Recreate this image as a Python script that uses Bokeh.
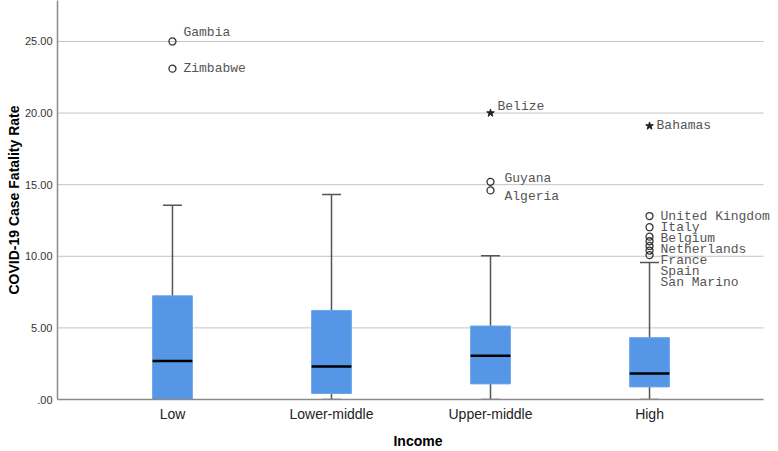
from bokeh.plotting import figure
from bokeh.models import FixedTicker, Range1d, ColumnDataSource, LabelSet
from bokeh.core.properties import value
from bokeh.embed import file_html
from bokeh.resources import INLINE

# ---- data ----
categories = ["Low", "Lower-middle", "Upper-middle", "High"]
q1 = [0.0, 0.42, 1.09, 0.88]
median = [2.69, 2.30, 3.06, 1.81]
q3 = [7.24, 6.22, 5.13, 4.32]
whisker_low = [0.0, 0.0, 0.0, 0.0]
whisker_high = [13.56, 14.32, 10.03, 9.56]

outlier_group = [1, 1, 3, 3, 3, 4, 4, 4, 4, 4, 4, 4, 4]
outlier_value = [25.0, 23.1, 20.0, 15.2, 14.6, 19.1, 12.81, 12.03, 11.37, 11.05, 10.72, 10.40, 10.08]
outlier_name = ["Gambia", "Zimbabwe", "Belize", "Guyana", "Algeria", "Bahamas",
                "United Kingdom", "Italy", "Belgium", "Netherlands", "France", "Spain", "San Marino"]
outlier_extreme = [False, False, True, False, False, True, False, False, False, False, False, False, False]

y_ticks = [0, 5, 10, 15, 20, 25]
y_tick_labels = [".00", "5.00", "10.00", "15.00", "20.00", "25.00"]

# ---- styling / layout ----
W, H = 778, 451
MB_L, MB_R, MB_T, MB_B = 57, 0, 0, 51
Y_END = 27.86
X_START, X_END = 0.277, 4.811
X_AXIS_END = 4.717
BOX_W = 0.25
CAP_W = 0.12
BLUE = "#5596E6"
px_per_unit = (H - MB_T - MB_B) / Y_END

label_dy_px = {"Gambia": 9, "Belize": 7, "Guyana": 3, "Algeria": -6}
label_dx_px = {"Guyana": 14, "Algeria": 14}
GAP_PX = 11

p = figure(width=W, height=H, output_backend="svg", toolbar_location=None,
           x_range=Range1d(X_START, X_END), y_range=Range1d(0, Y_END),
           min_border_left=MB_L, min_border_right=MB_R, min_border_top=MB_T,
           min_border_bottom=MB_B)
p.outline_line_color = None
p.background_fill_color = "white"
p.border_fill_color = "white"

xs = list(range(1, len(categories) + 1))

# horizontal grid lines (limited to the axis extent)
grid_y = y_ticks[1:]
p.segment(x0=[X_START] * len(grid_y), y0=grid_y, x1=[X_AXIS_END] * len(grid_y), y1=grid_y,
          line_color="#c4c4c4", line_width=1)

# whiskers
p.segment(x0=xs, y0=q3, x1=xs, y1=whisker_high, line_color="#555555", line_width=1.5)
p.segment(x0=xs, y0=whisker_low, x1=xs, y1=q1, line_color="#555555", line_width=1.5)
p.segment(x0=[x - CAP_W / 2 for x in xs], y0=whisker_high,
          x1=[x + CAP_W / 2 for x in xs], y1=whisker_high, line_color="#555555", line_width=1.5)
p.segment(x0=[x - CAP_W / 2 for x in xs], y0=whisker_low,
          x1=[x + CAP_W / 2 for x in xs], y1=whisker_low, line_color="#555555", line_width=1.5)

# boxes
p.vbar(x=xs, width=BOX_W, bottom=q1, top=q3, fill_color=BLUE, line_color="#6aa5ec", line_width=1)
p.segment(x0=[x - BOX_W / 2 for x in xs], y0=median,
          x1=[x + BOX_W / 2 for x in xs], y1=median, line_color="black", line_width=2.5)

# outliers
circ_x = [g for g, e in zip(outlier_group, outlier_extreme) if not e]
circ_y = [v for v, e in zip(outlier_value, outlier_extreme) if not e]
star_x = [g for g, e in zip(outlier_group, outlier_extreme) if e]
star_y = [v for v, e in zip(outlier_value, outlier_extreme) if e]
p.scatter(circ_x, circ_y, marker="circle", size=7, fill_color=None, line_color="#333333", line_width=1.3)
p.scatter(star_x, star_y, marker="star", size=8, fill_color="#222222", line_color="#222222")

# label positions (decluttered)
prev = {}
order = sorted(range(len(outlier_value)), key=lambda i: -outlier_value[i])
label_y = [0.0] * len(outlier_value)
for i in order:
    name = outlier_name[i]
    y = outlier_value[i] + label_dy_px.get(name, 0) / px_per_unit
    g = outlier_group[i]
    if g == 4 and g in prev:
        y = min(y, prev[g] - GAP_PX / px_per_unit)
    prev[g] = y
    label_y[i] = y
label_dx = [label_dx_px.get(n, 7 if e else 11) for n, e in zip(outlier_name, outlier_extreme)]

src = ColumnDataSource(dict(x=outlier_group, y=label_y, text=outlier_name, dx=label_dx))
labels = LabelSet(x="x", y="y", text="text", source=src, x_offset="dx",
                  text_font=value("Liberation Mono"), text_font_size=value("13px"),
                  text_color=value("#555555"), text_baseline=value("middle"), text_align=value("left"))
p.add_layout(labels)

# axes
p.xaxis.ticker = FixedTicker(ticks=xs)
p.xaxis.major_label_overrides = {x: c for x, c in zip(xs, categories)}
p.xaxis.bounds = (X_START, X_AXIS_END)
p.yaxis.ticker = FixedTicker(ticks=y_ticks)
p.yaxis.major_label_overrides = {t: l for t, l in zip(y_ticks, y_tick_labels)}
p.xgrid.grid_line_color = None
p.ygrid.grid_line_color = None

for ax in (p.xaxis[0], p.yaxis[0]):
    ax.axis_line_color = "#8a8a8a"
    ax.axis_line_width = 1.5
    ax.major_tick_out = 0
    ax.major_tick_in = 0
    ax.minor_tick_out = 0
    ax.minor_tick_in = 0
    ax.major_label_text_font = "Liberation Sans"
    ax.axis_label_text_font = "Liberation Sans"
    ax.axis_label_text_font_style = "bold"
    ax.axis_label_text_color = "black"
    ax.axis_label_text_font_size = "14px"

p.xaxis.axis_label = "Income"
p.yaxis.axis_label = "COVID-19 Case Fatality Rate"
p.xaxis.major_label_text_font_size = "14px"
p.xaxis.major_label_text_color = "#222222"
p.xaxis.major_label_standoff = 6
p.xaxis.axis_label_standoff = 8
p.yaxis.major_label_text_font_size = "11px"
p.yaxis.major_label_text_color = "#333333"
p.yaxis.major_label_standoff = 5
p.yaxis.axis_label_standoff = 0

open("out.html", "w").write(file_html(p, INLINE))
